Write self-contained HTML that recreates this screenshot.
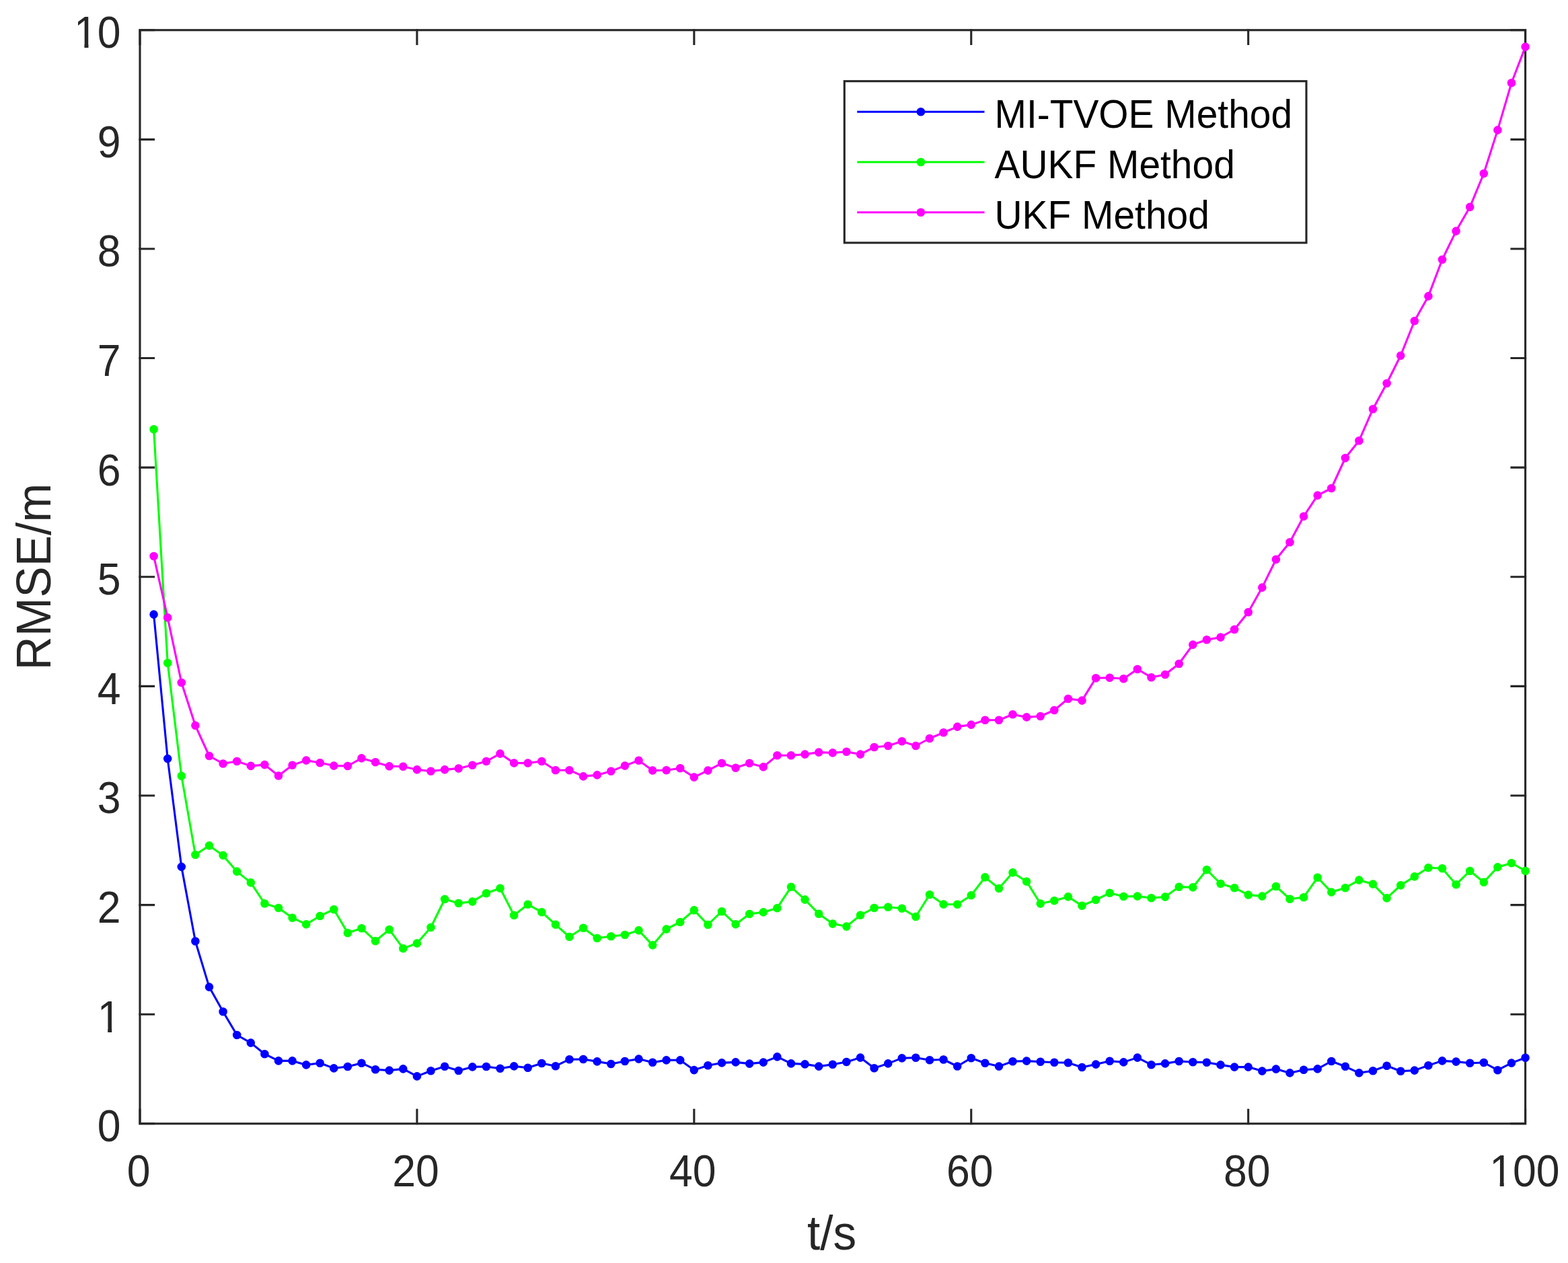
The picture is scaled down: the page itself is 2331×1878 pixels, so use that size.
<!DOCTYPE html>
<html lang="en"><head><meta charset="utf-8"><title>RMSE comparison</title>
<style>html,body{margin:0;padding:0;background:#fff}body{width:2331px;height:1878px}svg{display:block}</style></head>
<body>
<svg width="2331" height="1878" viewBox="0 0 2331 1878" font-family="'Liberation Sans', sans-serif">
<rect width="2331" height="1878" fill="#fff"/>
<defs><clipPath id="c1"><path d="M-39.76 -62.50H5.00V-5.77H-39.76Z M-19.29 -6.77H-13.27V6H-19.29Z"/></clipPath><clipPath id="c10"><path d="M-74.52 -62.50H5.00V-5.77H-74.52Z M-54.05 -6.77H-48.03V6H-54.05Z M-33.76 -6.77H5.00V6H-33.76Z"/></clipPath><clipPath id="c100"><path d="M-57.14 -62.50H57.14V-5.77H-57.14Z M-36.67 -6.77H-30.65V6H-36.67Z M-16.38 -6.77H57.14V6H-16.38Z"/></clipPath></defs>
<g stroke="#262626" stroke-width="3.1" stroke-linecap="square"><rect x="208.0" y="44.75" width="2059.6" height="1626.05" fill="none"/><path d="M208.00 1670.8v-20.6M208.00 44.75v20.6M619.92 1670.8v-20.6M619.92 44.75v20.6M1031.84 1670.8v-20.6M1031.84 44.75v20.6M1443.76 1670.8v-20.6M1443.76 44.75v20.6M1855.68 1670.8v-20.6M1855.68 44.75v20.6M2267.60 1670.8v-20.6M2267.60 44.75v20.6M208.0 1670.80h20.6M2267.6 1670.80h-20.6M208.0 1508.19h20.6M2267.6 1508.19h-20.6M208.0 1345.59h20.6M2267.6 1345.59h-20.6M208.0 1182.99h20.6M2267.6 1182.99h-20.6M208.0 1020.38h20.6M2267.6 1020.38h-20.6M208.0 857.77h20.6M2267.6 857.77h-20.6M208.0 695.17h20.6M2267.6 695.17h-20.6M208.0 532.56h20.6M2267.6 532.56h-20.6M208.0 369.96h20.6M2267.6 369.96h-20.6M208.0 207.36h20.6M2267.6 207.36h-20.6M208.0 44.75h20.6M2267.6 44.75h-20.6" fill="none"/></g>
<g><text transform="translate(206.00 1764.30) scale(1.0 1.052)" text-anchor="middle" fill="#262626" font-size="62.5">0</text><text transform="translate(617.92 1764.30) scale(1.0 1.052)" text-anchor="middle" fill="#262626" font-size="62.5">20</text><text transform="translate(1029.84 1764.30) scale(1.0 1.052)" text-anchor="middle" fill="#262626" font-size="62.5">40</text><text transform="translate(1441.76 1764.30) scale(1.0 1.052)" text-anchor="middle" fill="#262626" font-size="62.5">60</text><text transform="translate(1853.68 1764.30) scale(1.0 1.052)" text-anchor="middle" fill="#262626" font-size="62.5">80</text><text transform="translate(2266.40 1764.30) scale(1.0 1.052)" clip-path="url(#c100)" text-anchor="middle" fill="#262626" font-size="62.5">100</text><text transform="translate(179.50 1697.30) scale(1.0 1.052)" text-anchor="end" fill="#262626" font-size="62.5">0</text><text transform="translate(179.50 1534.69) scale(1.0 1.052)" clip-path="url(#c1)" text-anchor="end" fill="#262626" font-size="62.5">1</text><text transform="translate(179.50 1372.09) scale(1.0 1.052)" text-anchor="end" fill="#262626" font-size="62.5">2</text><text transform="translate(179.50 1209.49) scale(1.0 1.052)" text-anchor="end" fill="#262626" font-size="62.5">3</text><text transform="translate(179.50 1046.88) scale(1.0 1.052)" text-anchor="end" fill="#262626" font-size="62.5">4</text><text transform="translate(179.50 884.27) scale(1.0 1.052)" text-anchor="end" fill="#262626" font-size="62.5">5</text><text transform="translate(179.50 721.67) scale(1.0 1.052)" text-anchor="end" fill="#262626" font-size="62.5">6</text><text transform="translate(179.50 559.06) scale(1.0 1.052)" text-anchor="end" fill="#262626" font-size="62.5">7</text><text transform="translate(179.50 396.46) scale(1.0 1.052)" text-anchor="end" fill="#262626" font-size="62.5">8</text><text transform="translate(179.50 233.86) scale(1.0 1.052)" text-anchor="end" fill="#262626" font-size="62.5">9</text><text transform="translate(179.50 71.25) scale(1.0 1.052)" clip-path="url(#c10)" text-anchor="end" fill="#262626" font-size="62.5">10</text></g>
<text transform="translate(1236.50 1858.00) scale(1.0 1.045)" text-anchor="middle" fill="#262626" font-size="69.4">t/s</text>
<text transform="translate(74.60 857.60) rotate(-90) scale(1.0 1.045)" text-anchor="middle" fill="#262626" font-size="69.4">RMSE/m</text>
<polyline points="228.6,913.6 249.2,1128.1 269.8,1288.9 290.4,1399.5 311.0,1467.6 331.6,1504.2 352.2,1539.0 372.8,1550.6 393.4,1567.2 414.0,1577.4 434.6,1577.4 455.2,1583.4 475.7,1580.8 496.3,1588.4 516.9,1586.0 537.5,1580.8 558.1,1590.2 578.7,1591.6 599.3,1589.4 619.9,1600.4 640.5,1592.2 661.1,1585.8 681.7,1592.0 702.3,1586.4 722.9,1586.0 743.5,1588.8 764.1,1585.4 784.7,1587.8 805.3,1581.0 825.9,1585.2 846.5,1575.2 867.1,1575.0 887.7,1578.4 908.3,1582.0 928.9,1578.0 949.5,1574.6 970.1,1579.8 990.6,1576.4 1011.2,1576.4 1031.8,1591.1 1052.4,1584.2 1073.0,1580.4 1093.6,1579.4 1114.2,1581.6 1134.8,1579.6 1155.4,1571.4 1176.0,1581.4 1196.6,1582.4 1217.2,1585.6 1237.8,1582.8 1258.4,1579.0 1279.0,1572.6 1299.6,1588.2 1320.2,1581.4 1340.8,1573.4 1361.4,1572.8 1382.0,1576.2 1402.6,1575.5 1423.2,1585.5 1443.8,1573.2 1464.4,1580.8 1485.0,1585.6 1505.5,1578.2 1526.1,1577.6 1546.7,1578.8 1567.3,1579.8 1587.9,1580.2 1608.5,1587.0 1629.1,1582.6 1649.7,1577.8 1670.3,1579.4 1690.9,1572.6 1711.5,1583.2 1732.1,1581.4 1752.7,1578.0 1773.3,1579.2 1793.9,1579.8 1814.5,1583.4 1835.1,1586.6 1855.7,1586.6 1876.3,1592.6 1896.9,1589.6 1917.5,1595.4 1938.1,1590.8 1958.7,1589.4 1979.3,1578.0 1999.9,1585.8 2020.4,1595.4 2041.0,1592.2 2061.6,1584.8 2082.2,1592.8 2102.8,1591.6 2123.4,1584.2 2144.0,1577.4 2164.6,1578.6 2185.2,1580.8 2205.8,1580.0 2226.4,1591.2 2247.0,1580.6 2267.6,1572.8" fill="none" stroke="#0000ff" stroke-width="3.1" stroke-linejoin="round"/><path d="M228.6 913.6h0M249.2 1128.1h0M269.8 1288.9h0M290.4 1399.5h0M311.0 1467.6h0M331.6 1504.2h0M352.2 1539.0h0M372.8 1550.6h0M393.4 1567.2h0M414.0 1577.4h0M434.6 1577.4h0M455.2 1583.4h0M475.7 1580.8h0M496.3 1588.4h0M516.9 1586.0h0M537.5 1580.8h0M558.1 1590.2h0M578.7 1591.6h0M599.3 1589.4h0M619.9 1600.4h0M640.5 1592.2h0M661.1 1585.8h0M681.7 1592.0h0M702.3 1586.4h0M722.9 1586.0h0M743.5 1588.8h0M764.1 1585.4h0M784.7 1587.8h0M805.3 1581.0h0M825.9 1585.2h0M846.5 1575.2h0M867.1 1575.0h0M887.7 1578.4h0M908.3 1582.0h0M928.9 1578.0h0M949.5 1574.6h0M970.1 1579.8h0M990.6 1576.4h0M1011.2 1576.4h0M1031.8 1591.1h0M1052.4 1584.2h0M1073.0 1580.4h0M1093.6 1579.4h0M1114.2 1581.6h0M1134.8 1579.6h0M1155.4 1571.4h0M1176.0 1581.4h0M1196.6 1582.4h0M1217.2 1585.6h0M1237.8 1582.8h0M1258.4 1579.0h0M1279.0 1572.6h0M1299.6 1588.2h0M1320.2 1581.4h0M1340.8 1573.4h0M1361.4 1572.8h0M1382.0 1576.2h0M1402.6 1575.5h0M1423.2 1585.5h0M1443.8 1573.2h0M1464.4 1580.8h0M1485.0 1585.6h0M1505.5 1578.2h0M1526.1 1577.6h0M1546.7 1578.8h0M1567.3 1579.8h0M1587.9 1580.2h0M1608.5 1587.0h0M1629.1 1582.6h0M1649.7 1577.8h0M1670.3 1579.4h0M1690.9 1572.6h0M1711.5 1583.2h0M1732.1 1581.4h0M1752.7 1578.0h0M1773.3 1579.2h0M1793.9 1579.8h0M1814.5 1583.4h0M1835.1 1586.6h0M1855.7 1586.6h0M1876.3 1592.6h0M1896.9 1589.6h0M1917.5 1595.4h0M1938.1 1590.8h0M1958.7 1589.4h0M1979.3 1578.0h0M1999.9 1585.8h0M2020.4 1595.4h0M2041.0 1592.2h0M2061.6 1584.8h0M2082.2 1592.8h0M2102.8 1591.6h0M2123.4 1584.2h0M2144.0 1577.4h0M2164.6 1578.6h0M2185.2 1580.8h0M2205.8 1580.0h0M2226.4 1591.2h0M2247.0 1580.6h0M2267.6 1572.8h0" fill="none" stroke="#0000ff" stroke-width="12.6" stroke-linecap="round"/>
<polyline points="228.6,638.2 249.2,985.8 269.8,1153.7 290.4,1271.0 311.0,1257.4 331.6,1271.9 352.2,1295.9 372.8,1312.4 393.4,1343.5 414.0,1350.0 434.6,1364.7 455.2,1374.4 475.7,1362.0 496.3,1352.2 516.9,1387.2 537.5,1380.2 558.1,1399.2 578.7,1382.2 599.3,1410.2 619.9,1402.6 640.5,1379.0 661.1,1337.0 681.7,1343.0 702.3,1340.6 722.9,1328.2 743.5,1320.8 764.1,1361.0 784.7,1344.8 805.3,1356.2 825.9,1374.8 846.5,1393.0 867.1,1379.8 887.7,1395.0 908.3,1392.2 928.9,1390.0 949.5,1383.4 970.1,1405.4 990.6,1381.6 1011.2,1371.0 1031.8,1353.4 1052.4,1375.0 1073.0,1355.2 1093.6,1374.4 1114.2,1359.0 1134.8,1356.4 1155.4,1350.2 1176.0,1318.8 1196.6,1337.6 1217.2,1358.8 1237.8,1373.6 1258.4,1377.6 1279.0,1360.8 1299.6,1350.0 1320.2,1348.8 1340.8,1350.8 1361.4,1363.0 1382.0,1330.2 1402.6,1344.6 1423.2,1344.8 1443.8,1331.2 1464.4,1304.4 1485.0,1321.0 1505.5,1297.4 1526.1,1310.8 1546.7,1343.6 1567.3,1339.2 1587.9,1333.4 1608.5,1346.8 1629.1,1338.0 1649.7,1327.8 1670.3,1333.0 1690.9,1332.6 1711.5,1335.2 1732.1,1333.6 1752.7,1318.8 1773.3,1319.4 1793.9,1293.2 1814.5,1314.0 1835.1,1320.2 1855.7,1330.6 1876.3,1332.6 1896.9,1318.0 1917.5,1336.8 1938.1,1334.2 1958.7,1304.8 1979.3,1326.6 1999.9,1320.2 2020.4,1308.6 2041.0,1314.6 2061.6,1335.4 2082.2,1316.4 2102.8,1303.4 2123.4,1290.2 2144.0,1291.2 2164.6,1315.2 2185.2,1295.0 2205.8,1311.8 2226.4,1289.4 2247.0,1283.2 2267.6,1295.0" fill="none" stroke="#00ff00" stroke-width="3.1" stroke-linejoin="round"/><path d="M228.6 638.2h0M249.2 985.8h0M269.8 1153.7h0M290.4 1271.0h0M311.0 1257.4h0M331.6 1271.9h0M352.2 1295.9h0M372.8 1312.4h0M393.4 1343.5h0M414.0 1350.0h0M434.6 1364.7h0M455.2 1374.4h0M475.7 1362.0h0M496.3 1352.2h0M516.9 1387.2h0M537.5 1380.2h0M558.1 1399.2h0M578.7 1382.2h0M599.3 1410.2h0M619.9 1402.6h0M640.5 1379.0h0M661.1 1337.0h0M681.7 1343.0h0M702.3 1340.6h0M722.9 1328.2h0M743.5 1320.8h0M764.1 1361.0h0M784.7 1344.8h0M805.3 1356.2h0M825.9 1374.8h0M846.5 1393.0h0M867.1 1379.8h0M887.7 1395.0h0M908.3 1392.2h0M928.9 1390.0h0M949.5 1383.4h0M970.1 1405.4h0M990.6 1381.6h0M1011.2 1371.0h0M1031.8 1353.4h0M1052.4 1375.0h0M1073.0 1355.2h0M1093.6 1374.4h0M1114.2 1359.0h0M1134.8 1356.4h0M1155.4 1350.2h0M1176.0 1318.8h0M1196.6 1337.6h0M1217.2 1358.8h0M1237.8 1373.6h0M1258.4 1377.6h0M1279.0 1360.8h0M1299.6 1350.0h0M1320.2 1348.8h0M1340.8 1350.8h0M1361.4 1363.0h0M1382.0 1330.2h0M1402.6 1344.6h0M1423.2 1344.8h0M1443.8 1331.2h0M1464.4 1304.4h0M1485.0 1321.0h0M1505.5 1297.4h0M1526.1 1310.8h0M1546.7 1343.6h0M1567.3 1339.2h0M1587.9 1333.4h0M1608.5 1346.8h0M1629.1 1338.0h0M1649.7 1327.8h0M1670.3 1333.0h0M1690.9 1332.6h0M1711.5 1335.2h0M1732.1 1333.6h0M1752.7 1318.8h0M1773.3 1319.4h0M1793.9 1293.2h0M1814.5 1314.0h0M1835.1 1320.2h0M1855.7 1330.6h0M1876.3 1332.6h0M1896.9 1318.0h0M1917.5 1336.8h0M1938.1 1334.2h0M1958.7 1304.8h0M1979.3 1326.6h0M1999.9 1320.2h0M2020.4 1308.6h0M2041.0 1314.6h0M2061.6 1335.4h0M2082.2 1316.4h0M2102.8 1303.4h0M2123.4 1290.2h0M2144.0 1291.2h0M2164.6 1315.2h0M2185.2 1295.0h0M2205.8 1311.8h0M2226.4 1289.4h0M2247.0 1283.2h0M2267.6 1295.0h0" fill="none" stroke="#00ff00" stroke-width="12.6" stroke-linecap="round"/>
<polyline points="228.6,827.0 249.2,918.4 269.8,1015.0 290.4,1078.8 311.0,1124.0 331.6,1135.5 352.2,1132.0 372.8,1138.9 393.4,1137.1 414.0,1153.5 434.6,1137.8 455.2,1130.6 475.7,1134.3 496.3,1138.6 516.9,1139.0 537.5,1127.4 558.1,1133.2 578.7,1139.4 599.3,1139.8 619.9,1144.4 640.5,1146.8 661.1,1144.4 681.7,1142.6 702.3,1137.8 722.9,1132.0 743.5,1120.6 764.1,1134.6 784.7,1134.6 805.3,1132.0 825.9,1145.2 846.5,1145.2 867.1,1154.4 887.7,1152.4 908.3,1146.8 928.9,1138.6 949.5,1130.8 970.1,1145.6 990.6,1145.2 1011.2,1142.2 1031.8,1155.6 1052.4,1145.6 1073.0,1134.8 1093.6,1141.8 1114.2,1134.8 1134.8,1140.4 1155.4,1123.2 1176.0,1123.2 1196.6,1121.6 1217.2,1118.6 1237.8,1119.4 1258.4,1117.8 1279.0,1121.6 1299.6,1111.0 1320.2,1109.0 1340.8,1102.2 1361.4,1109.0 1382.0,1098.0 1402.6,1089.2 1423.2,1080.6 1443.8,1077.6 1464.4,1070.8 1485.0,1070.8 1505.5,1062.2 1526.1,1066.4 1546.7,1065.0 1567.3,1056.0 1587.9,1039.0 1608.5,1041.6 1629.1,1008.2 1649.7,1007.8 1670.3,1009.2 1690.9,995.0 1711.5,1007.2 1732.1,1003.0 1752.7,987.0 1773.3,958.6 1793.9,951.2 1814.5,947.6 1835.1,936.0 1855.7,910.2 1876.3,873.6 1896.9,831.8 1917.5,806.2 1938.1,767.8 1958.7,736.6 1979.3,726.0 1999.9,681.0 2020.4,655.2 2041.0,608.2 2061.6,570.0 2082.2,528.8 2102.8,477.2 2123.4,440.4 2144.0,386.0 2164.6,343.6 2185.2,307.8 2205.8,258.0 2226.4,193.4 2247.0,123.2 2267.6,69.6" fill="none" stroke="#ff00ff" stroke-width="3.1" stroke-linejoin="round"/><path d="M228.6 827.0h0M249.2 918.4h0M269.8 1015.0h0M290.4 1078.8h0M311.0 1124.0h0M331.6 1135.5h0M352.2 1132.0h0M372.8 1138.9h0M393.4 1137.1h0M414.0 1153.5h0M434.6 1137.8h0M455.2 1130.6h0M475.7 1134.3h0M496.3 1138.6h0M516.9 1139.0h0M537.5 1127.4h0M558.1 1133.2h0M578.7 1139.4h0M599.3 1139.8h0M619.9 1144.4h0M640.5 1146.8h0M661.1 1144.4h0M681.7 1142.6h0M702.3 1137.8h0M722.9 1132.0h0M743.5 1120.6h0M764.1 1134.6h0M784.7 1134.6h0M805.3 1132.0h0M825.9 1145.2h0M846.5 1145.2h0M867.1 1154.4h0M887.7 1152.4h0M908.3 1146.8h0M928.9 1138.6h0M949.5 1130.8h0M970.1 1145.6h0M990.6 1145.2h0M1011.2 1142.2h0M1031.8 1155.6h0M1052.4 1145.6h0M1073.0 1134.8h0M1093.6 1141.8h0M1114.2 1134.8h0M1134.8 1140.4h0M1155.4 1123.2h0M1176.0 1123.2h0M1196.6 1121.6h0M1217.2 1118.6h0M1237.8 1119.4h0M1258.4 1117.8h0M1279.0 1121.6h0M1299.6 1111.0h0M1320.2 1109.0h0M1340.8 1102.2h0M1361.4 1109.0h0M1382.0 1098.0h0M1402.6 1089.2h0M1423.2 1080.6h0M1443.8 1077.6h0M1464.4 1070.8h0M1485.0 1070.8h0M1505.5 1062.2h0M1526.1 1066.4h0M1546.7 1065.0h0M1567.3 1056.0h0M1587.9 1039.0h0M1608.5 1041.6h0M1629.1 1008.2h0M1649.7 1007.8h0M1670.3 1009.2h0M1690.9 995.0h0M1711.5 1007.2h0M1732.1 1003.0h0M1752.7 987.0h0M1773.3 958.6h0M1793.9 951.2h0M1814.5 947.6h0M1835.1 936.0h0M1855.7 910.2h0M1876.3 873.6h0M1896.9 831.8h0M1917.5 806.2h0M1938.1 767.8h0M1958.7 736.6h0M1979.3 726.0h0M1999.9 681.0h0M2020.4 655.2h0M2041.0 608.2h0M2061.6 570.0h0M2082.2 528.8h0M2102.8 477.2h0M2123.4 440.4h0M2144.0 386.0h0M2164.6 343.6h0M2185.2 307.8h0M2205.8 258.0h0M2226.4 193.4h0M2247.0 123.2h0M2267.6 69.6h0" fill="none" stroke="#ff00ff" stroke-width="12.6" stroke-linecap="round"/>
<rect x="1255.3" y="120.7" width="686.7" height="240.30" fill="#fff" stroke="#262626" stroke-width="3.1"/>
<path d="M1274.2 166.2H1463.5" stroke="#0000ff" stroke-width="3.1" fill="none"/>
<circle cx="1368.9" cy="166.2" r="6.3" fill="#0000ff"/>
<text transform="translate(1478.50 190.20) scale(1.0 1.05)" text-anchor="start" fill="#000" font-size="56.9">MI-TVOE Method</text>
<path d="M1274.2 241.0H1463.5" stroke="#00ff00" stroke-width="3.1" fill="none"/>
<circle cx="1368.9" cy="241.0" r="6.3" fill="#00ff00"/>
<text transform="translate(1478.50 265.00) scale(1.0 1.05)" text-anchor="start" fill="#000" font-size="56.9">AUKF Method</text>
<path d="M1274.2 315.7H1463.5" stroke="#ff00ff" stroke-width="3.1" fill="none"/>
<circle cx="1368.9" cy="315.7" r="6.3" fill="#ff00ff"/>
<text transform="translate(1478.50 339.70) scale(1.0 1.05)" text-anchor="start" fill="#000" font-size="56.9">UKF Method</text>
</svg>
</body></html>
